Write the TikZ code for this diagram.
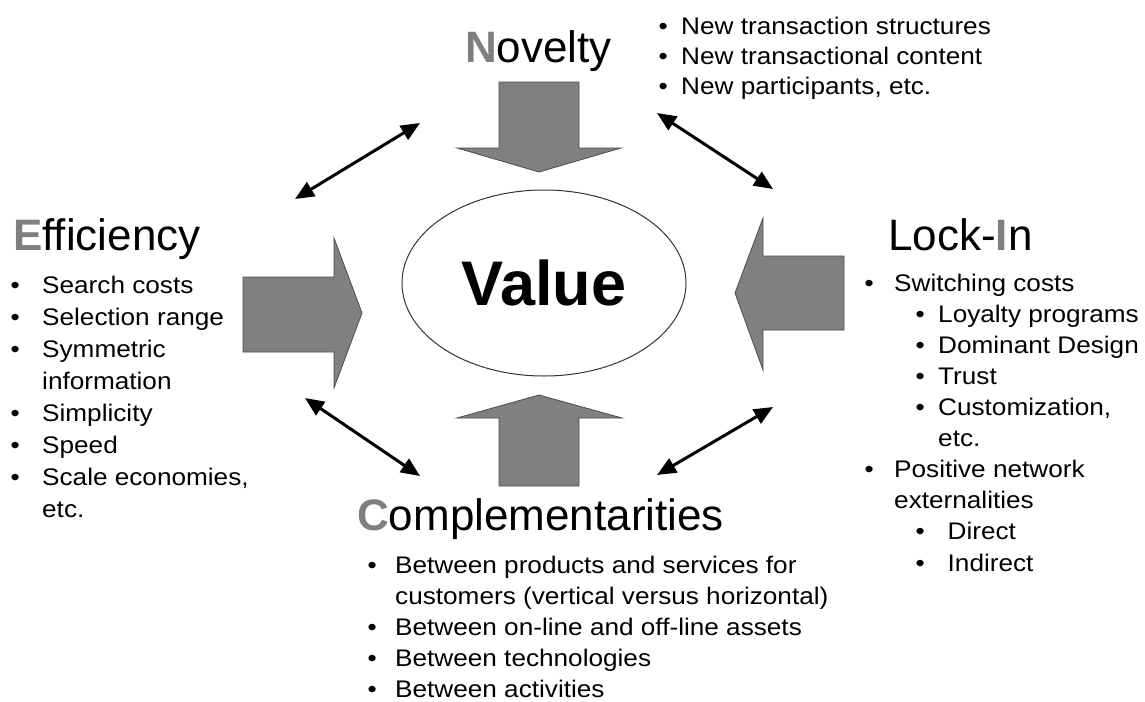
\documentclass[tikz,border=0pt]{standalone}
\usepackage{fontspec}
\setmainfont{Liberation Sans}
\newfontfamily\listfont{Liberation Sans}[FakeStretch=1.09]
\usetikzlibrary{arrows.meta,shapes.geometric}
\definecolor{capgray}{HTML}{7F7F7F}
\definecolor{boxgray}{HTML}{808080}
\newcommand{\bul}[1]{\makebox[#1][l]{\textbullet}}
\newcommand{\initial}[1]{{\color{capgray}\textbf{#1}}}
\begin{document}
\begin{tikzpicture}[x=1pt, y=-1pt,
    head/.style={anchor=base west, inner sep=0, font=\fontsize{44}{50}\selectfont},
    list/.style={anchor=base west, inner sep=0, align=left, font=\listfont\fontsize{24}{#1}\selectfont},
    list/.default=31,
    fat/.style={fill=boxgray, draw=black!70, line width=0.8pt},
    link/.style={line width=3pt, {Triangle[length=19pt,width=16pt]}-{Triangle[length=19pt,width=16pt]}}]
  \useasboundingbox (0,0) rectangle (1145,701);
  % centre
  \node[ellipse, draw=black!80, line width=1pt, minimum width=284pt, minimum height=186pt, inner sep=0,
        font=\fontsize{63}{70}\selectfont\bfseries] (value) at (544,283) {Value};
  % block arrows pointing to the centre
  \filldraw[fat] (499,82) -- (579,82) -- (579,148) -- (621,148) -- (539,172) -- (457,148) -- (499,148) -- cycle;
  \filldraw[fat] (499,486) -- (579,486) -- (579,418) -- (622,418) -- (539,395) -- (457,418) -- (499,418) -- cycle;
  \filldraw[fat] (243,277) -- (334,277) -- (334,238) -- (362,313) -- (334,388) -- (334,352) -- (243,352) -- cycle;
  \filldraw[fat] (844,256) -- (763,256) -- (763,218) -- (735,293) -- (763,370) -- (763,330) -- (844,330) -- cycle;
  % headings
  \node[head] (novelty) at (465,63) {\initial{N}ovelty};
  \node[head] (efficiency) at (13,250) {\initial{E}fficiency};
  \node[head] (lockin) at (888,250) {Lock-\initial{I}n};
  \node[head] (compl) at (357,530) {\initial{C}omplementarities};
  % bullet lists (placed by the baseline of their last line)
  \node[list=29.5] (novlist) at (658.5,94) {\bul{22.5pt}New transaction structures\\
    \bul{22.5pt}New transactional content\\
    \bul{22.5pt}New participants, etc.};
  \node[list=32] (efflist) at (10.5,517) {\bul{31.5pt}Search costs\\
    \bul{31.5pt}Selection range\\
    \bul{31.5pt}Symmetric\\
    \hspace*{31.5pt}information\\
    \bul{31.5pt}Simplicity\\
    \bul{31.5pt}Speed\\
    \bul{31.5pt}Scale economies,\\
    \hspace*{31.5pt}etc.};
  \node[list=31.1] (locklist) at (864.5,571) {\bul{29.5pt}Switching costs\\
    \hspace*{51pt}\bul{22.5pt}Loyalty programs\\
    \hspace*{51pt}\bul{22.5pt}Dominant Design\\
    \hspace*{51pt}\bul{22.5pt}Trust\\
    \hspace*{51pt}\bul{22.5pt}Customization,\\
    \hspace*{73.5pt}etc.\\
    \bul{29.5pt}Positive network\\
    \hspace*{29.5pt}externalities\\
    \hspace*{51pt}\bul{32pt}Direct\\
    \hspace*{51pt}\bul{32pt}Indirect};
  \node[list=31] (compllist) at (367.5,697) {\bul{27.5pt}Between products and services for\\
    \hspace*{27.5pt}customers (vertical versus horizontal)\\
    \bul{27.5pt}Between on-line and off-line assets\\
    \bul{27.5pt}Between technologies\\
    \bul{27.5pt}Between activities};
  % two-way links between the four sources
  \coordinate (tl-a) at (295,199); \coordinate (tl-b) at (420,123);
  \coordinate (tr-a) at (657,113); \coordinate (tr-b) at (773,189);
  \coordinate (bl-a) at (305,398); \coordinate (bl-b) at (420,476);
  \coordinate (br-a) at (657,475); \coordinate (br-b) at (773,407);
  \draw[link] (tl-a) -- (tl-b);
  \draw[link] (tr-a) -- (tr-b);
  \draw[link] (bl-a) -- (bl-b);
  \draw[link] (br-a) -- (br-b);
\end{tikzpicture}
\end{document}
